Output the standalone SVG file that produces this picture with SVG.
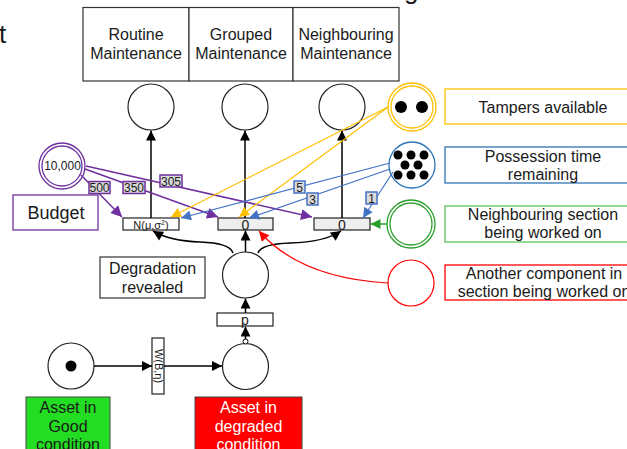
<svg xmlns="http://www.w3.org/2000/svg" width="627" height="449" viewBox="0 0 627 449">
<style>
text{font-family:"Liberation Sans",Arial,sans-serif;fill:#1a1a1a}
.t16{font-size:16px;text-anchor:middle}
.t12{font-size:12px;text-anchor:middle}
.box{fill:#fff;stroke:#333;stroke-width:1.2}
.place{fill:#fff;stroke:#222;stroke-width:1.2}
.tr{fill:#fff;stroke:#222;stroke-width:1.2}
.tr0{fill:#eeeeee;stroke:#222;stroke-width:1.2}
.arc{fill:none;stroke:#000;stroke-width:1.5}
.pu{fill:none;stroke:#7030a0;stroke-width:1.5}
.ye{fill:none;stroke:#ffc000;stroke-width:1.2}
.bl{fill:none;stroke:#4472c4;stroke-width:1.2}
.gr{fill:none;stroke:#2ca02c;stroke-width:1.5}
.rd{fill:none;stroke:#ff0000;stroke-width:1.2}
.lblp{fill:#d9d9d9;stroke:#7030a0;stroke-width:1.5}
.lblb{fill:#d9d9d9;stroke:#4472c4;stroke-width:1.5}
.tok{fill:#000}
</style>
<defs>
<marker id="mk" viewBox="0 0 10 10" refX="10" refY="5" markerWidth="11" markerHeight="10" orient="auto" markerUnits="userSpaceOnUse"><path d="M0,0 L10,5 L0,10 z" fill="#000"/></marker>
<marker id="mp" viewBox="0 0 10 10" refX="10" refY="5" markerWidth="12" markerHeight="11" orient="auto" markerUnits="userSpaceOnUse"><path d="M0,0 L10,5 L0,10 z" fill="#7030a0"/></marker>
<marker id="my" viewBox="0 0 10 10" refX="10" refY="5" markerWidth="11" markerHeight="10" orient="auto" markerUnits="userSpaceOnUse"><path d="M0,0 L10,5 L0,10 z" fill="#ffc000"/></marker>
<marker id="mb" viewBox="0 0 10 10" refX="10" refY="5" markerWidth="11" markerHeight="10" orient="auto" markerUnits="userSpaceOnUse"><path d="M0,0 L10,5 L0,10 z" fill="#4472c4"/></marker>
<marker id="mg" viewBox="0 0 10 10" refX="10" refY="5" markerWidth="11" markerHeight="10" orient="auto" markerUnits="userSpaceOnUse"><path d="M0,0 L10,5 L0,10 z" fill="#2ca02c"/></marker>
<marker id="mr" viewBox="0 0 10 10" refX="10" refY="5" markerWidth="11" markerHeight="10" orient="auto" markerUnits="userSpaceOnUse"><path d="M0,0 L10,5 L0,10 z" fill="#ff0000"/></marker>
</defs>
<rect width="627" height="449" fill="#fff"/>

<g id="title-fragments">
<text x="-1" y="43" font-size="26">t</text>
<text x="404" y="-1" font-size="26">g</text>
</g>

<g id="routine-box"><rect class="box" x="83" y="7.5" width="106" height="73.5"/><text class="t16" x="136" y="40">Routine</text><text class="t16" x="136" y="59">Maintenance</text></g>
<g id="grouped-box"><rect class="box" x="189" y="7.5" width="104" height="73.5"/><text class="t16" x="241" y="40">Grouped</text><text class="t16" x="241" y="59">Maintenance</text></g>
<g id="neighbouring-box"><rect class="box" x="293" y="7.5" width="106" height="73.5"/><text class="t16" x="346" y="40">Neighbouring</text><text class="t16" x="346" y="59">Maintenance</text></g>

<g id="p-routine"><circle class="place" cx="151" cy="107" r="23"/></g>
<g id="p-grouped"><circle class="place" cx="245" cy="107" r="23"/></g>
<g id="p-neighbouring"><circle class="place" cx="342" cy="107" r="23"/></g>

<g id="p-tampers">
<circle cx="412" cy="107" r="24" fill="#fff" stroke="#ffc000" stroke-width="1.3"/>
<circle cx="412" cy="107" r="21" fill="none" stroke="#ffc000" stroke-width="1.3"/>
<circle class="tok" cx="401" cy="107" r="6"/><circle class="tok" cx="422" cy="107" r="6"/>
</g>
<g id="lbl-tampers"><rect x="445" y="89" width="196" height="35" fill="#fff" stroke="#ffc000" stroke-width="1.3"/><text class="t16" x="543" y="113">Tampers available</text></g>

<g id="p-possession">
<circle cx="412" cy="165" r="23" fill="#fff" stroke="#2e75b6" stroke-width="1.3"/>
<circle class="tok" cx="398" cy="155" r="4.5"/><circle class="tok" cx="411" cy="155" r="4.5"/><circle class="tok" cx="424" cy="155" r="4.5"/>
<circle class="tok" cx="405" cy="165" r="4.5"/><circle class="tok" cx="418" cy="165" r="4.5"/>
<circle class="tok" cx="398" cy="175" r="4.5"/><circle class="tok" cx="411" cy="175" r="4.5"/><circle class="tok" cx="424" cy="175" r="4.5"/>
</g>
<g id="lbl-possession"><rect x="445" y="147" width="196" height="36" fill="#fff" stroke="#2e75b6" stroke-width="1.3"/><text class="t16" x="543" y="162">Possession time</text><text class="t16" x="543" y="180">remaining</text></g>

<g id="p-neighbour-section">
<circle cx="411" cy="224" r="24" fill="#fff" stroke="#2ca02c" stroke-width="1.3"/>
<circle cx="411" cy="224" r="21" fill="none" stroke="#2ca02c" stroke-width="1.3"/>
</g>
<g id="lbl-neighbour-section"><rect x="445" y="206" width="196" height="36" fill="#fff" stroke="#5cc45c" stroke-width="1.3"/><text class="t16" x="543" y="220">Neighbouring section</text><text class="t16" x="543" y="238">being worked on</text></g>

<g id="p-another"><circle cx="411" cy="283" r="23" fill="#fff" stroke="#ff0000" stroke-width="1.2"/></g>
<g id="lbl-another"><rect x="445" y="265" width="196" height="35" fill="#fff" stroke="#ff0000" stroke-width="1.3"/><text class="t16" x="544" y="279">Another component in</text><text class="t16" x="544" y="297">section being worked on</text></g>

<g id="p-budget">
<circle cx="62" cy="166" r="23" fill="#fff" stroke="#7030a0" stroke-width="1.3"/>
<circle cx="62" cy="166" r="20" fill="none" stroke="#7030a0" stroke-width="1.3"/>
<text class="t12" x="62.5" y="170">10,000</text>
</g>
<g id="lbl-budget"><rect x="13" y="195" width="85" height="35" fill="#fff" stroke="#7030a0" stroke-width="1.3"/><text x="56" y="219" font-size="18" text-anchor="middle">Budget</text></g>

<g id="t-normal"><rect class="tr" x="123" y="218" width="56" height="12"/><text x="151" y="228.5" font-size="11" text-anchor="middle">N(μ,σ<tspan font-size="7" dy="-4">2</tspan><tspan dy="4">)</tspan></text></g>
<g id="t-grouped"><rect class="tr0" x="218" y="218" width="55" height="12"/><text x="245.5" y="229.5" font-size="14" text-anchor="middle">0</text></g>
<g id="t-neighbouring"><rect class="tr0" x="314" y="218" width="56" height="12"/><text x="342" y="229.5" font-size="14" text-anchor="middle">0</text></g>

<g id="p-revealed"><circle class="place" cx="245.5" cy="275" r="23"/></g>
<g id="lbl-revealed"><rect class="box" x="100" y="257" width="105" height="41"/><text class="t16" x="152.5" y="274">Degradation</text><text class="t16" x="152.5" y="293">revealed</text></g>

<g id="t-p"><rect class="tr" x="217" y="313" width="56" height="13"/><text x="245" y="325" font-size="14" text-anchor="middle">p</text></g>

<g id="p-good"><circle class="place" cx="71" cy="366" r="23"/><circle class="tok" cx="71" cy="366" r="5.5"/></g>
<g id="t-weibull"><rect class="tr" x="152" y="338" width="12" height="56"/><text x="0" y="0" font-size="11" text-anchor="middle" transform="translate(154.5,366) rotate(90)">W(B,η)</text></g>
<g id="p-degraded"><circle class="place" cx="245.5" cy="366.5" r="23"/></g>

<g id="lbl-good"><rect x="26" y="397" width="84" height="60" fill="#22dd22" stroke="#444" stroke-width="1"/><text class="t16" x="68" y="413">Asset in</text><text class="t16" x="68" y="431.5">Good</text><text class="t16" x="68" y="450">condition</text></g>
<g id="lbl-degraded"><rect x="195" y="397" width="107" height="60" fill="#ff0000" stroke="#444" stroke-width="1"/><text class="t16" x="248.5" y="413" style="fill:#fff">Asset in</text><text class="t16" x="248.5" y="431.5" style="fill:#fff">degraded</text><text class="t16" x="248.5" y="450" style="fill:#fff">condition</text></g>

<g id="connectors">
<path class="arc" d="M151,218 V130.5" marker-end="url(#mk)"/>
<path class="arc" d="M245,218 V130.5" marker-end="url(#mk)"/>
<path class="arc" d="M342,218 V130.5" marker-end="url(#mk)"/>
<path class="arc" d="M245.5,252 V230.5" marker-end="url(#mk)"/>
<path class="arc" d="M233,253 Q230,243 200,242 Q170,241 153,231" marker-end="url(#mk)"/>
<path class="arc" d="M258,253 Q261,244 290,243 Q325,242 341,231" marker-end="url(#mk)"/>
<path class="arc" d="M245.5,313 V298.5" marker-end="url(#mk)"/>
<path class="arc" d="M245.5,340.5 V326.5" marker-end="url(#mk)"/>
<circle cx="245.5" cy="341.5" r="2.5" fill="#fff" stroke="#000" stroke-width="1"/>
<path class="arc" d="M94,366 H152" marker-end="url(#mk)"/>
<path class="arc" d="M164,366 H222" marker-end="url(#mk)"/>

<path class="pu" d="M81,175 L122,217" marker-end="url(#mp)"/>
<path class="pu" d="M85,169 L218,217" marker-end="url(#mp)"/>
<path class="pu" d="M86,166 L312,217" marker-end="url(#mp)"/>

<path class="ye" d="M388,107 L171,217" marker-end="url(#my)"/>
<path class="ye" d="M388,107 L239,217" marker-end="url(#my)"/>

<path class="bl" d="M390,163 L181,218" marker-end="url(#mb)"/>
<path class="bl" d="M390,169 L249,218" marker-end="url(#mb)"/>
<path class="bl" d="M393,172 L363,218" marker-end="url(#mb)"/>

<path class="gr" d="M387,224 H370.5" marker-end="url(#mg)"/>
<path class="rd" d="M388,283 Q300,278 259,231" marker-end="url(#mr)"/>

<g id="arc-labels">
<rect class="lblp" x="89" y="181.5" width="21" height="12"/><text class="t12" x="99.5" y="192">500</text>
<rect class="lblp" x="123" y="181.5" width="22" height="12"/><text class="t12" x="134" y="192">350</text>
<rect class="lblp" x="160" y="175" width="22" height="12"/><text class="t12" x="171" y="185.5">305</text>
<rect class="lblb" x="294" y="181" width="11" height="12"/><text class="t12" x="299.5" y="191.5">5</text>
<rect class="lblb" x="307" y="193" width="11" height="12"/><text class="t12" x="312.5" y="203.5">3</text>
<rect class="lblb" x="366" y="192" width="11" height="12"/><text class="t12" x="371.5" y="202.5">1</text>
</g>
</g>
</svg>
